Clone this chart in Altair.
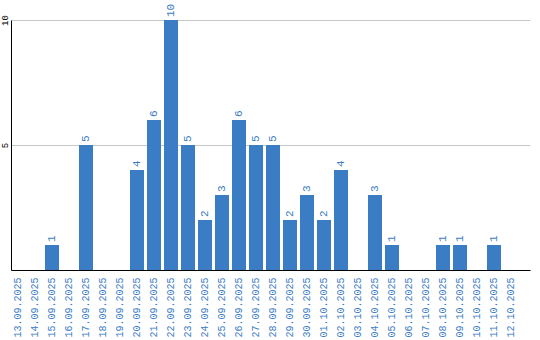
import altair as alt
import pandas as pd

dates = ["13.09.2025", "14.09.2025", "15.09.2025", "16.09.2025", "17.09.2025",
         "18.09.2025", "19.09.2025", "20.09.2025", "21.09.2025", "22.09.2025",
         "23.09.2025", "24.09.2025", "25.09.2025", "26.09.2025", "27.09.2025",
         "28.09.2025", "29.09.2025", "30.09.2025", "01.10.2025", "02.10.2025",
         "03.10.2025", "04.10.2025", "05.10.2025", "06.10.2025", "07.10.2025",
         "08.10.2025", "09.10.2025", "10.10.2025", "11.10.2025", "12.10.2025"]
values = [0, 0, 1, 0, 5, 0, 0, 4, 6, 10, 5, 2, 3, 6, 5, 5, 2, 3, 2, 4,
          0, 3, 1, 0, 0, 1, 1, 0, 1, 0]

df = pd.DataFrame({"date": dates, "value": values})

FONT = "Liberation Mono"
BLUE = "#3b7dc4"

x = alt.X("date:N", sort=dates, title=None,
          scale=alt.Scale(paddingInner=0.1765, paddingOuter=0.353, align=0),
          axis=alt.Axis(labelAngle=-90, labelColor=BLUE, labelFont=FONT,
                        labelFontSize=10, ticks=False, labelPadding=7,
                        domainColor="black", domainWidth=1, grid=False))
y = alt.Y("value:Q", title=None,
          scale=alt.Scale(domain=[0, 10], nice=False),
          axis=alt.Axis(values=[5, 10], labelAngle=-90, labelColor="black",
                        labelFont=FONT, labelFontSize=9, ticks=False,
                        labelPadding=2, labelAlign="center", labelBaseline="bottom",
                        domainColor="black", domainWidth=1, grid=True,
                        gridColor="#c8c8c8", gridWidth=1))

bars = alt.Chart(df).mark_bar(color=BLUE).encode(x=x, y=y)
labels = alt.Chart(df).transform_filter("datum.value > 0").mark_text(
    angle=270, align="left", baseline="middle", dx=3, color=BLUE,
    font=FONT, fontSize=11
).encode(x=alt.X("date:N", sort=dates), y="value:Q", text="value:Q")

chart = (bars + labels).properties(
    width=519, height=250,
    background="white",
    autosize=alt.AutoSizeParams(type="none"),
    padding={"left": 11, "top": 20, "right": 10, "bottom": 70},
).configure_view(stroke=None)

chart.save("out.html", embed_options={"renderer": "svg", "actions": False})
